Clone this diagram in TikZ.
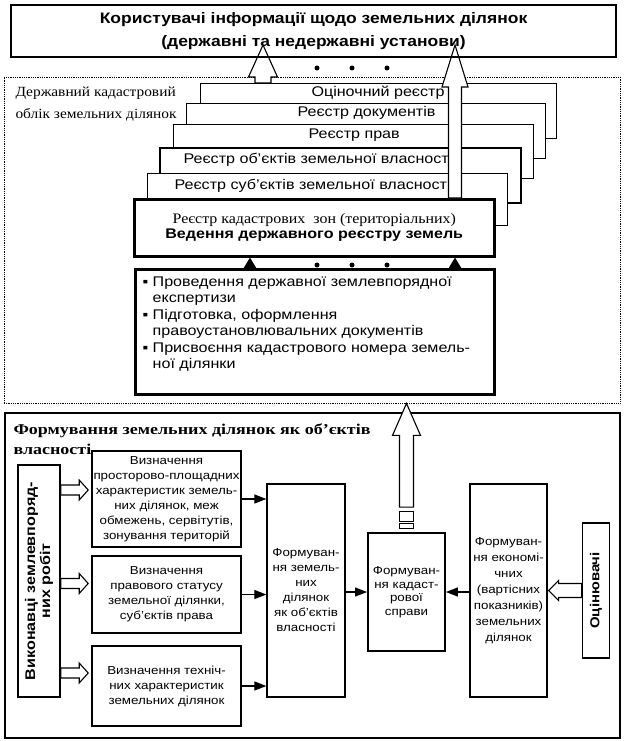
\documentclass[tikz,border=0pt]{standalone}
\usepackage{fontspec}
\setmainfont[FakeStretch=1.15]{Liberation Sans}
\newfontfamily\serfont[FakeStretch=1.1]{Liberation Serif}
\newfontfamily\titlefont[FakeStretch=1.2]{Liberation Serif}
\usetikzlibrary{arrows.meta,calc,positioning}

% hollow block arrow: from, to, shaft half width, head half width, head length
\newcommand{\hollowarrow}[5]{%
  \draw[line width=1.1pt, fill=white, line join=miter]
    let \p1=(#1), \p2=(#2), \n1={atan2(\y2-\y1,\x2-\x1)}, \n2={veclen(\x2-\x1,\y2-\y1)}
    in [shift={(\p1)}, rotate=\n1]
    (0,-#3) -- (\n2-#5,-#3) -- (\n2-#5,-#4) -- (\n2,0) -- (\n2-#5,#4) -- (\n2-#5,#3) -- (0,#3) -- cycle;}
\newcommand{\sqbullet}{\symbol{"25AA}}

\tikzset{
  regbox/.style={draw, fill=white, line width=1pt, anchor=north west},
  regtext/.style={anchor=west, font=\fontsize{14}{16}\selectfont},
  smallbox/.style={draw, fill=white, line width=1.6pt, align=center, inner sep=1pt,
    font=\fontsize{11.6}{15}\selectfont},
  arr/.style={-{Triangle[length=12pt,width=9pt]}, line width=1.2pt},
  arrup/.style={-{Triangle[length=12pt,width=14pt]}, line width=1.2pt},
  dot/.style={circle, fill, inner sep=0pt, minimum size=5pt},
}

\begin{document}
\begin{tikzpicture}[x=1pt, y=-1pt]
\useasboundingbox (0,0) rectangle (624,741);

% dotted frame of the cadastre
\node[draw, densely dotted, line width=0.8pt, minimum width=616pt, minimum height=326pt] (cad) at (312,240) {};
\node[anchor=west, align=left, font=\serfont\fontsize{14}{22}\selectfont] (cadlabel) at (12,104)
  {Державний кадастровий\\облік земельних ділянок};

% registers, back to front
\node[regbox, minimum width=356pt, minimum height=55pt] (reg1) at (200,83) {};
\node[regtext] (reg1t) at (308,93) {Оціночний реєстр};
\node[regbox, minimum width=359pt, minimum height=55pt] (reg2) at (186,103) {};
\node[regtext] (reg2t) at (294,113) {Реєстр документів};
\node[regbox, line width=1.2pt, minimum width=360pt, minimum height=54pt] (reg3) at (173,124) {};
\node[regtext] (reg3t) at (305,135) {Реєстр прав};
\node[regbox, line width=2pt, minimum width=361pt, minimum height=55pt] (reg4) at (159,147) {};
\node[regtext] (reg4t) at (180,160) {Реєстр об’єктів земельної власності};
\node[regbox, line width=1.2pt, minimum width=360pt, minimum height=52pt] (reg5) at (147,173) {};
\node[regtext] (reg5t) at (171,186) {Реєстр суб’єктів земельної власності};
\node[regbox, line width=2.5pt, minimum width=360pt, minimum height=57pt, align=center] (vedennya) at (133,198)
  {{\serfont\fontsize{14.5}{18}\selectfont Реєстр кадастрових \ зон (територіальних)}\\[1pt]
   {\bfseries\fontsize{14}{18}\selectfont Ведення державного реєстру земель}};

% arrows to the users
\coordinate (usl) at (263,45);
\coordinate (usr) at (455,45);
\hollowarrow{reg1.north -| usl}{usl}{8}{14.5}{32}
\hollowarrow{vedennya.north -| usr}{usr}{6.5}{13}{42}

\node[draw, line width=1.6pt, minimum width=605pt, minimum height=52pt, align=center,
  font=\bfseries\fontsize{15.2}{23}\selectfont] (users) at (313.5,31)
  {Користувачі інформації щодо земельних ділянок\\(державні та недержавні установи)};

\foreach \x in {317,352,387}
  \node[dot] (du\x) at (\x,68) {};

% procedures
\node[draw, line width=2.5pt, minimum width=359pt, minimum height=125pt, anchor=north west] (bul) at (134,268) {};
\node[anchor=north west, align=left, font=\fontsize{14}{16.5}\selectfont] (bultext) at (139,273)
  {\sqbullet\ Проведення державної землевпорядної\\
   \phantom{\sqbullet\ }експертизи\\
   \sqbullet\ Підготовка, оформлення\\
   \phantom{\sqbullet\ }правоустановлювальних документів\\
   \sqbullet\ Присвоєння кадастрового номера земель-\\
   \phantom{\sqbullet\ }ної ділянки};

\coordinate (bl) at (250,0);
\draw[arrup] (bul.north -| bl) -- (vedennya.south -| bl);
\draw[arrup] (bul.north -| usr) -- (vedennya.south -| usr);
\foreach \x in {317,352,387}
  \node[dot] (dl\x) at (\x,265) {};

% forming of land plots
\node[draw, line width=1.6pt, minimum width=615pt, minimum height=325pt] (form) at (312.5,575.5) {};
\node[anchor=north west, align=left, font=\titlefont\bfseries\fontsize{15}{20}\selectfont] (formt) at (10,420)
  {Формування земельних ділянок як об’єктів\\власності};

\node[draw, line width=1.5pt, minimum width=42pt, minimum height=232pt] (vyk) at (39,581) {};
\node[rotate=90, align=center, font=\bfseries\fontsize{14}{15}\selectfont] (vykt) at (vyk.center)
  {Виконавці землевпоряд-\\них робіт};

\node[smallbox, minimum width=149pt, minimum height=96pt] (vyzn1) at (166.5,499)
  {Визначення\\просторово-площадних\\характеристик земель-\\них ділянок, меж\\обмежень, сервітутів,\\зонування територій};
\node[smallbox, minimum width=149pt, minimum height=77pt] (vyzn2) at (166.5,594.5)
  {Визначення\\правового статусу\\земельної ділянки,\\суб’єктів права};
\node[smallbox, minimum width=149pt, minimum height=80pt] (vyzn3) at (166.5,686)
  {Визначення техніч-\\них характеристик\\земельних ділянок};

\node[smallbox, line width=1.3pt, minimum width=78pt, minimum height=213pt] (formzem) at (306,590.5)
  {Формуван-\\ня земель-\\них\\ділянок\\як об’єктів\\власності};
\node[smallbox, line width=1.8pt, minimum width=77pt, minimum height=118pt, font=\fontsize{11.6}{13.5}\selectfont] (kad) at (406.5,592)
  {Формуван-\\ня кадаст-\\рової\\справи};
\node[smallbox, line width=1.3pt, minimum width=77pt, minimum height=213pt, font=\fontsize{11.6}{16}\selectfont] (econ) at (508.5,590.5)
  {Формуван-\\ня економі-\\чних\\(вартісних\\показників)\\земельних\\ділянок};
\node[draw, line width=1.5pt, minimum width=27pt, minimum height=135pt] (ocin) at (596,590.5) {};
\node[rotate=90, font=\bfseries\fontsize{13}{15}\selectfont] (ocint) at (ocin.center) {Оцінювачі};

% block arrows
\hollowarrow{$(vyk.east |- vyzn1.west)+(0,-9)$}{$(vyzn1.west)+(-3,-9)$}{5}{10}{9}
\hollowarrow{$(vyk.east |- vyzn2.west)+(0,-11)$}{$(vyzn2.west)+(-3,-11)$}{5}{10}{9}
\hollowarrow{$(vyk.east |- vyzn3.west)+(0,-13)$}{$(vyzn3.west)+(-3,-13)$}{5}{10}{9}
\hollowarrow{ocin.west |- econ.east}{$(econ.east)+(1,0)$}{7}{10}{10}
\hollowarrow{$(kad.north)+(0,-25)$}{kad.north |- cad.south}{7}{14}{32}
\draw[line width=1pt] ($(kad.north)+(-7,-21)$) rectangle ($(kad.north)+(7,-11)$);
\draw[line width=1pt] ($(kad.north)+(-7,-9)$) rectangle ($(kad.north)+(7,-4)$);

% solid arrows
\draw[arr] (vyzn1.east) -- (vyzn1.east -| formzem.west);
\draw[arr] (vyzn2.east) -- (vyzn2.east -| formzem.west);
\draw[arr] (vyzn3.east) -- (vyzn3.east -| formzem.west);
\draw[arr] (formzem.east |- kad) -- (kad.west);
\draw[arr] (econ.west |- kad) -- (kad.east);

\end{tikzpicture}
\end{document}
